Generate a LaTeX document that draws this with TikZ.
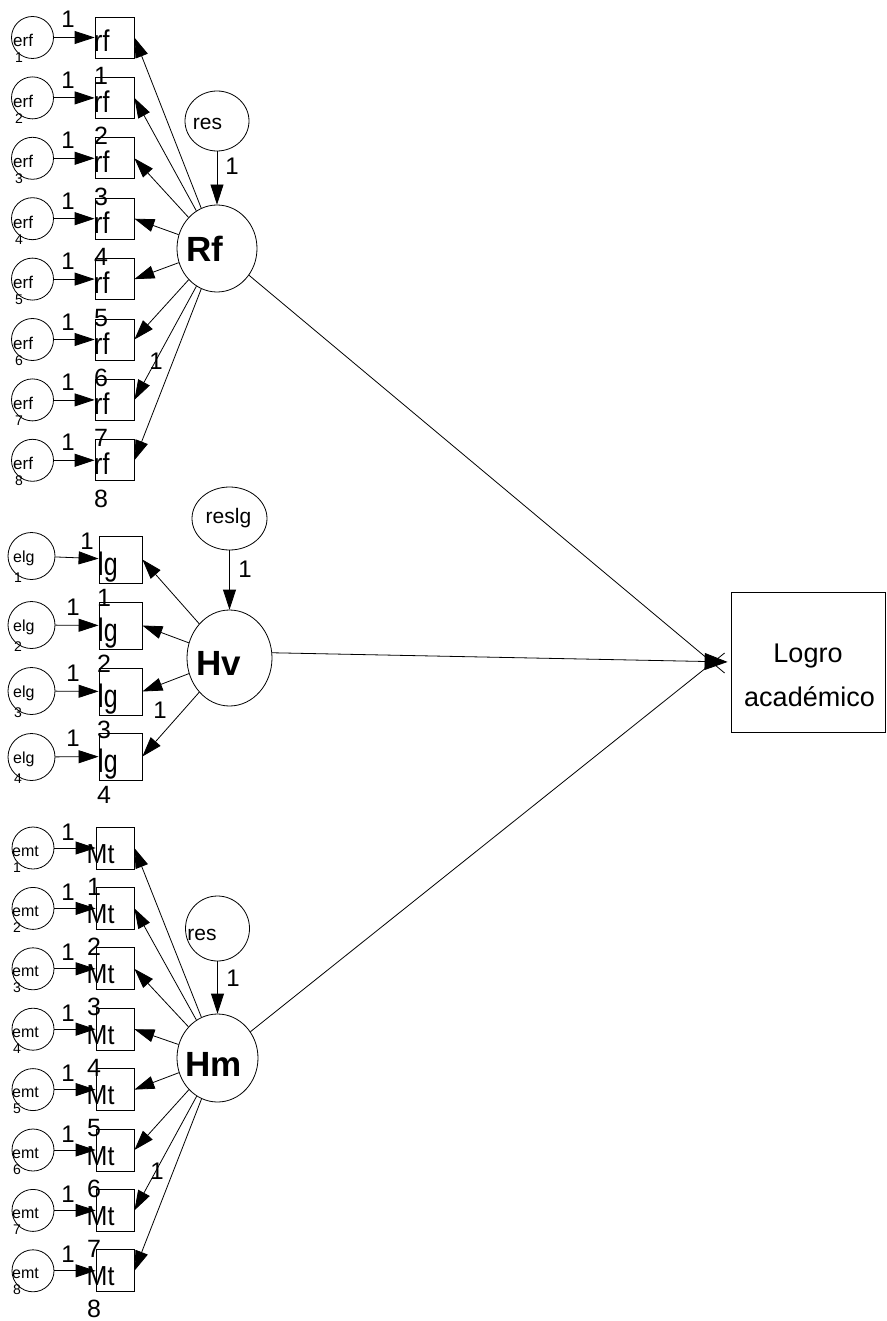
\documentclass[tikz,border=0pt]{standalone}
\usepackage{graphicx}
\usepackage{fontspec}
\setmainfont{Liberation Sans}
\usetikzlibrary{arrows.meta,shapes.geometric,calc}

\newcommand{\tallt}[2][1.2]{\scalebox{1}[#1]{#2}}

\tikzset{
  lat/.style={draw, ellipse, inner sep=0pt, line width=0.8pt},
  obs/.style={draw, rectangle, inner sep=0pt, line width=0.8pt},
  edge/.style={line width=0.8pt},
  path/.style={edge, -{Triangle[length=20pt,width=13pt]}},
  small/.style={font=\fontsize{17}{18}\selectfont, inner sep=0pt, anchor=base west},
  smallnum/.style={font=\fontsize{14}{16}\selectfont, inner sep=0pt, anchor=base west},
  boxlab/.style={font=\fontsize{25}{30}\selectfont, inner sep=0pt, anchor=base west},
  one/.style={font=\fontsize{24}{28}\selectfont, inner sep=0pt, anchor=base},
  big/.style={font=\fontsize{35}{40}\selectfont\bfseries, inner sep=0pt, anchor=base},
  restxt/.style={font=\fontsize{21}{24}\selectfont, inner sep=0pt, anchor=base},
  outtxt/.style={font=\fontsize{27}{30}\selectfont, inner sep=0pt, anchor=base}
}

\begin{document}
\begin{tikzpicture}[x=1pt,y=-1pt]
\useasboundingbox (0,0) rectangle (886,1321);
\fill[white] (0,0) rectangle (886,1321);

% ---------- outcome ----------
\node[obs, minimum width=154pt, minimum height=140pt] (Logro) at (808,662) {};
\node[outtxt] (logro1) at (808,662) {Logro};
\node[outtxt] (logro2) at (809.5,706) {académico};

% ---------- Rf factor ----------
\node[lat, minimum width=80pt, minimum height=87pt] (Rf) at (217,248.5) {};
\node[big] (Rft) at (205,262) {Rf};
\node[lat, minimum width=64pt, minimum height=60pt] (res1) at (217,121) {};
\node[restxt] (res1t) at (207.5,130) {res};
\draw[path] (res1) -- (Rf);
\node[one, anchor=center] (res1w) at (232,166) {1};

\foreach \i in {1,...,8} {
  \pgfmathsetmacro{\y}{37.5+60.4*(\i-1)}
  \node[obs, minimum width=39pt, minimum height=41pt] (rf\i) at (114.5,\y) {};
  \node[lat, minimum width=42pt, minimum height=42pt] (erf\i) at (32.5,\y) {};
  \node[small] (erft\i) at (13,\y+9.5) {erf};
  \node[smallnum] (erfk\i) at (15,\y+25.5) {\i};
  \node[boxlab] (rft\i) at (94,\y+14.5) {\tallt{rf}};
  \node[boxlab] (rfk\i) at (94,\y+47) {\i};
  \draw[path] (erf\i) -- (rf\i);
  \node[one] (erfw\i) at (68,\y-9.5) {1};
  \draw[path] (Rf) -- (rf\i.east);
}
\node[one, anchor=center] (rfw) at (156,361) {1};

% ---------- Hv factor ----------
\node[lat, minimum width=85pt, minimum height=96pt] (Hv) at (229.5,658) {};
\node[big] (Hvt) at (219,675) {Hv};
\node[lat, minimum width=75pt, minimum height=63pt] (reslg) at (229.5,518.5) {};
\node[restxt] (reslgt) at (228.5,523) {reslg};
\draw[path] (reslg) -- (Hv);
\node[one, anchor=center] (reslgw) at (245,569) {1};

\foreach \i/\y/\c/\lx in {1/559.5/556/87,2/625.5/625/73,3/691.5/691/73,4/756.5/757/73} {
  \node[obs, minimum width=43pt, minimum height=47pt] (lg\i) at (120.5,\y) {};
  \node[lat, minimum width=47pt, minimum height=47pt] (elg\i) at (31.5,\c) {};
  \node[small, font=\fontsize{16}{18}\selectfont] (elgt\i) at (13,\c+6) {elg};
  \node[smallnum] (elgk\i) at (14,\c+26) {\i};
  \node[boxlab] (lgt\i) at (98,\y+15.5) {\tallt[1.3]{lg}};
  \node[boxlab] (lgk\i) at (97,\y+47) {\i};
  \draw[path] (elg\i) -- (lg\i);
  \node[one] (elgw\i) at (\lx,\y-10) {1};
  \draw[path] (Hv) -- (lg\i.east);
}
\node[one, anchor=center] (lgw) at (160,710) {1};

% ---------- Hm factor ----------
\node[lat, minimum width=81pt, minimum height=88pt] (Hm) at (217.5,1058) {};
\node[big] (Hmt) at (213.5,1076) {Hm};
\node[lat, minimum width=64pt, minimum height=65pt] (res2) at (217.5,928.5) {};
\node[restxt] (res2t) at (202,940) {res};
\draw[path] (res2) -- (Hm);
\node[one, anchor=center] (res2w) at (233,978) {1};

\foreach \i in {1,...,8} {
  \pgfmathsetmacro{\y}{848+60.4*(\i-1)}
  \node[obs, minimum width=38pt, minimum height=42pt] (mt\i) at (115,\y) {};
  \node[lat, minimum width=42pt, minimum height=42pt] (emt\i) at (33,\y) {};
  \node[small, font=\fontsize{16}{18}\selectfont] (emtt\i) at (12,\y+8) {emt};
  \node[smallnum] (emtk\i) at (13,\y+24) {\i};
  \node[boxlab] (mtt\i) at (86.5,\y+15) {\tallt[1.1]{Mt}};
  \node[boxlab] (mtk\i) at (87,\y+47) {\i};
  \draw[path] (emt\i) -- (mt\i);
  \node[one] (emtw\i) at (68,\y-8) {1};
  \draw[path] (Hm) -- (mt\i.east);
}
\node[one, anchor=center] (mtw) at (157,1171) {1};

% ---------- structural paths ----------
\draw[edge] (Rf) -- ($(Logro.west)+(-6,11)$);
\draw[edge] (Hm) -- ($(Logro.west)+(-6,-9)$);
\draw[edge, -{Triangle[length=23pt,width=17pt]}, shorten >=3pt] (Hv.7) -- (Logro.west);
\end{tikzpicture}
\end{document}
